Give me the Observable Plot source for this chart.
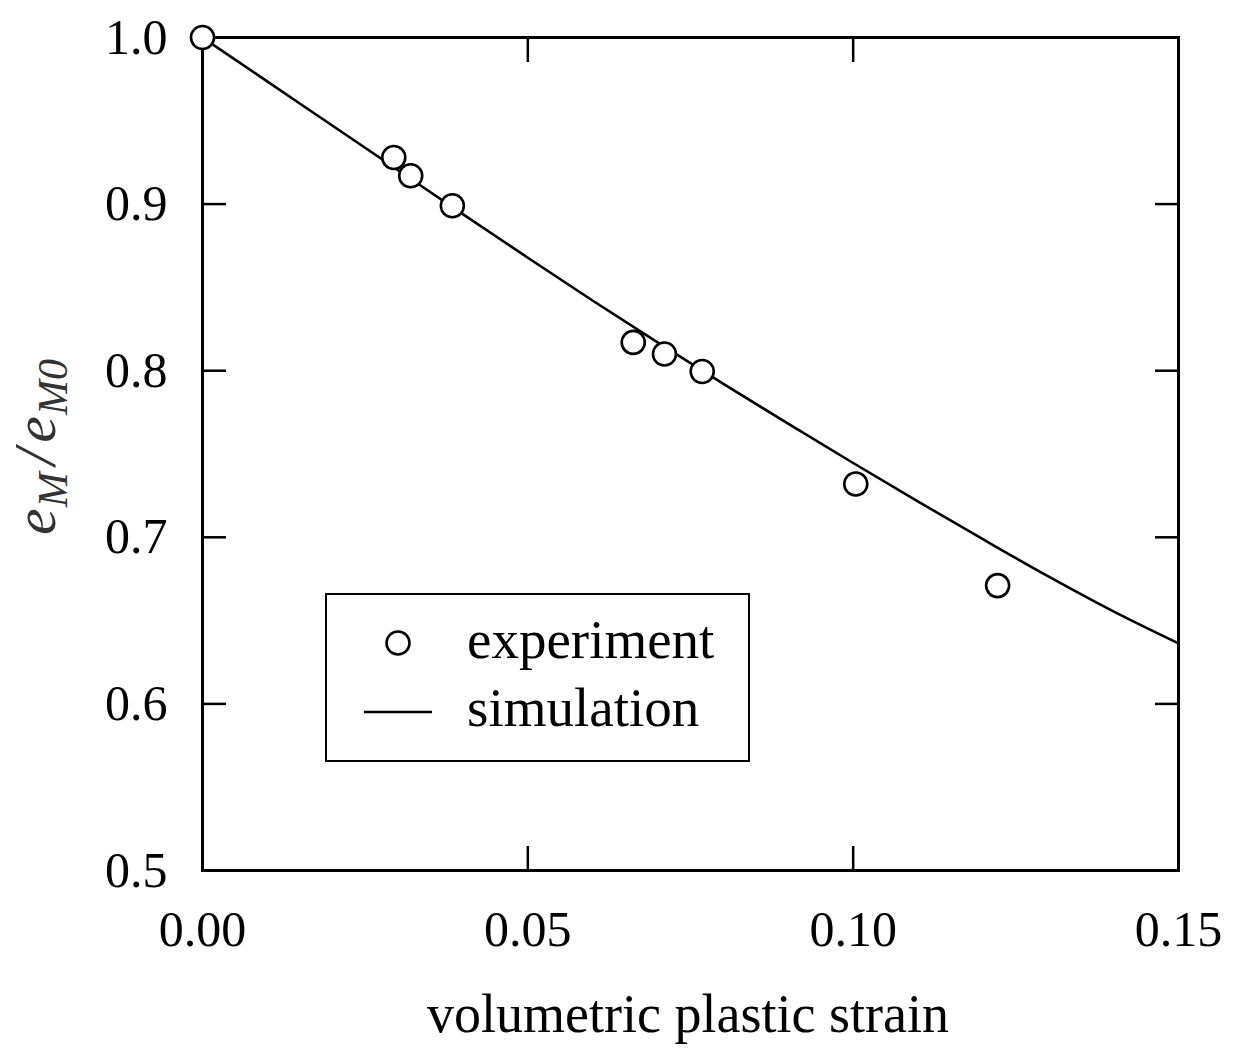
<!DOCTYPE html>
<html>
<head>
<meta charset="utf-8">
<script src="https://cdn.jsdelivr.net/npm/d3@7"></script>
<script src="https://cdn.jsdelivr.net/npm/@observablehq/plot@0.6"></script>
<style>
  html, body { margin: 0; padding: 0; background: #fff; }
  #wrap { position: relative; width: 1236px; height: 1050px; }
  #legend { position: absolute; left: 325px; top: 593px; width: 421px; height: 165px;
    border: 2px solid #000; background: #fff; font-family: "Liberation Serif", serif; font-size: 55px; color: #000; }
  #legend svg { position: absolute; left: 0; top: 0; }
  #legend .lab { position: absolute; left: 140px; line-height: 1; }
</style>
</head>
<body>
<div id="wrap"></div>
<script>
// Experimental points
const expStrain = [0.0, 0.0294, 0.0320, 0.0384, 0.0662, 0.0710, 0.0768, 0.1004, 0.1222];
const expRatio  = [1.0, 0.928, 0.917, 0.899, 0.817, 0.810, 0.7995, 0.732, 0.671];

// Simulation curve
const simStrain = [0.00, 0.01, 0.02, 0.03, 0.04, 0.05, 0.06, 0.07, 0.08, 0.09, 0.10, 0.11, 0.12, 0.13, 0.14, 0.15];
const simRatio  = [1.000, 0.9735, 0.9470, 0.9205, 0.8940, 0.8678, 0.8420, 0.8168, 0.7922, 0.7682, 0.7446, 0.7214, 0.6987, 0.6765, 0.6555, 0.6363];

// Ticks
const xTicks = [0.00, 0.05, 0.10, 0.15];
const yTicks = [0.5, 0.6, 0.7, 0.8, 0.9, 1.0];

const expData = expStrain.map((x, i) => ({x, y: expRatio[i]}));
const simData = simStrain.map((x, i) => ({x, y: simRatio[i]}));

const fmtX = d3.format(".2f");
const fmtY = d3.format(".1f");
const blank = () => "";

const chart = Plot.plot({
  width: 1236,
  height: 1050,
  marginLeft: 202,
  marginRight: 58,
  marginTop: 37,
  marginBottom: 180,
  style: {fontFamily: "Liberation Serif, serif", fontSize: "50px", color: "#000", background: "#fff"},
  x: {domain: [0, 0.15]},
  y: {domain: [0.5, 1.0]},
  marks: [
    // inward ticks on all sides
    Plot.axisX(xTicks, {anchor: "bottom", tickSize: -24, tickFormat: blank, label: null, strokeWidth: 2.5}),
    Plot.axisX(xTicks, {anchor: "top", tickSize: -24, tickFormat: blank, label: null, strokeWidth: 2.5}),
    Plot.axisY(yTicks, {anchor: "left", tickSize: -24, tickFormat: blank, label: null, strokeWidth: 2.5}),
    Plot.axisY(yTicks, {anchor: "right", tickSize: -24, tickFormat: blank, label: null, strokeWidth: 2.5}),
    // tick labels
    Plot.axisX(xTicks, {anchor: "bottom", tickSize: 0, tickPadding: 40, tickFormat: fmtX, label: null, fontSize: 50}),
    Plot.axisY(yTicks, {anchor: "left", tickSize: 0, tickPadding: 35, tickFormat: fmtY, label: null, fontSize: 50}),
    Plot.frame({stroke: "#000", strokeWidth: 3}),
    Plot.line(simData, {x: "x", y: "y", stroke: "#000", strokeWidth: 2.6, curve: "monotone-x"}),
    Plot.dot(expData, {x: "x", y: "y", r: 11.5, fill: "#fff", stroke: "#000", strokeWidth: 2.6})
  ]
});

const wrap = document.getElementById("wrap");
wrap.appendChild(chart);

const svg = d3.select(chart);
// x-axis title
svg.append("text")
  .attr("x", 688).attr("y", 1032)
  .attr("text-anchor", "middle")
  .attr("font-family", "Liberation Serif, serif")
  .attr("font-size", 54)
  .attr("fill", "#000")
  .text("volumetric plastic strain");

// y-axis title e_M / e_M0
const yl = svg.append("text")
  .attr("transform", "translate(55,447) rotate(-90)")
  .attr("text-anchor", "middle")
  .attr("font-family", "Liberation Serif, serif")
  .attr("font-style", "italic")
  .attr("font-size", 60)
  .attr("fill", "#333");
yl.append("tspan").text("e");
yl.append("tspan").attr("font-size", 42).attr("dy", 12).attr("dx", 1).text("M");
yl.append("tspan").attr("dy", -12).attr("dx", 7).text("/");
yl.append("tspan").attr("dx", 6).text("e");
yl.append("tspan").attr("font-size", 42).attr("dy", 12).attr("dx", 1).text("M0");

// legend
const legend = document.createElement("div");
legend.id = "legend";
legend.innerHTML = `
  <svg width="421" height="165">
    <circle cx="71" cy="48" r="11.5" fill="#fff" stroke="#000" stroke-width="2.6"></circle>
    <line x1="37" x2="105" y1="117" y2="117" stroke="#000" stroke-width="2.6"></line>
  </svg>
  <div class="lab" style="top:17px">experiment</div>
  <div class="lab" style="top:85px">simulation</div>`;
wrap.appendChild(legend);
</script>
</body>
</html>
